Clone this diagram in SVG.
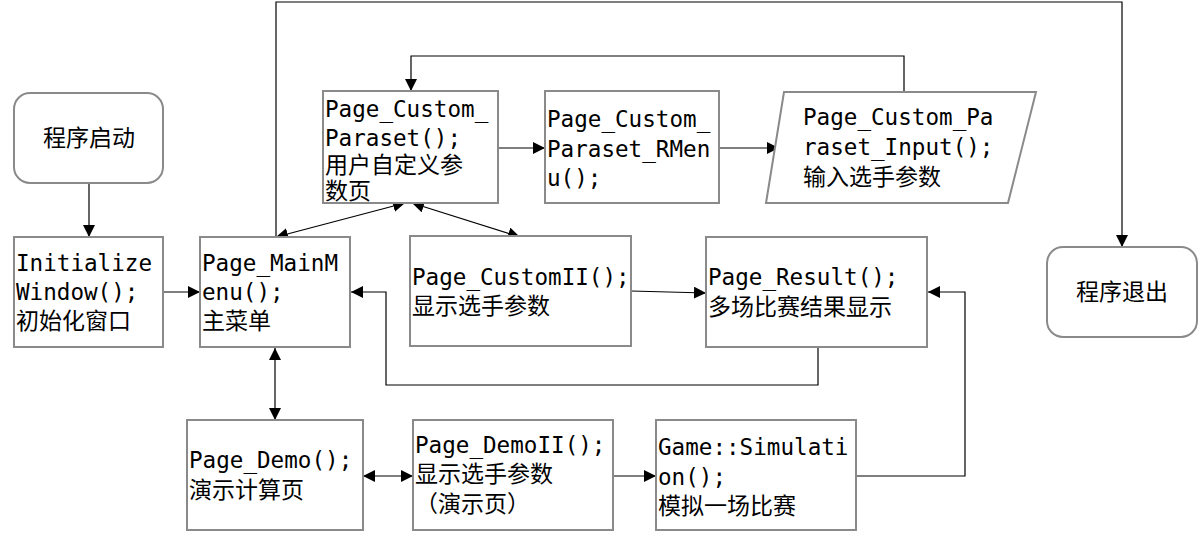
<svg xmlns="http://www.w3.org/2000/svg" width="1199" height="536" viewBox="0 0 1199 536">
<style>
.box{fill:#fff;stroke:#8a8a8a;stroke-width:2}
.code{font-family:"DejaVu Sans Mono","Liberation Mono","Noto Sans CJK SC",monospace;font-size:22.6px;fill:#000}
.cjk{font-family:"Noto Sans CJK SC","Liberation Sans",sans-serif;font-size:23px;fill:#000}
.ctr{text-anchor:middle}
.ln{fill:none;stroke:#000;stroke-width:1.2}
</style>
<defs>
<marker id="a" viewBox="0 0 10 10" refX="10" refY="5" markerWidth="12" markerHeight="12" markerUnits="userSpaceOnUse" orient="auto-start-reverse">
<path d="M0,0 L10,5 L0,10 z" fill="#000"/>
</marker>
</defs>
<g id="connectors">
<path class="ln" d="M89,183 V237" marker-end="url(#a)"/>
<path class="ln" d="M163,292 H200" marker-end="url(#a)"/>
<path class="ln" d="M276,237 V2 H1122 V247" marker-end="url(#a)"/>
<path class="ln" d="M276,237 L405,203" marker-start="url(#a)" marker-end="url(#a)"/>
<path class="ln" d="M412,203 L520,237" marker-start="url(#a)" marker-end="url(#a)"/>
<path class="ln" d="M498,148 H545" marker-end="url(#a)"/>
<path class="ln" d="M719,148 H779" marker-end="url(#a)"/>
<path class="ln" d="M904,92 V56 H411 V91" marker-end="url(#a)"/>
<path class="ln" d="M631,291 L706,293" marker-end="url(#a)"/>
<path class="ln" d="M818,347 V385 H386 V292 H351" marker-end="url(#a)"/>
<path class="ln" d="M275,348 V420" marker-start="url(#a)" marker-end="url(#a)"/>
<path class="ln" d="M363,476 H413" marker-start="url(#a)" marker-end="url(#a)"/>
<path class="ln" d="M613,476 H656" marker-end="url(#a)"/>
<path class="ln" d="M856,476 H965 V292 H928" marker-end="url(#a)"/>
</g>
<g id="start">
<rect class="box" x="14" y="93" width="149" height="90" rx="16"/>
<text class="cjk ctr" x="89" y="146">程序启动</text>
</g>
<g id="init">
<rect class="box" x="14" y="237" width="149" height="110"/>
<text class="code" x="16" y="271">Initialize</text>
<text class="code" x="16" y="300">Window();</text>
<text class="cjk" x="16" y="329">初始化窗口</text>
</g>
<g id="mainmenu">
<rect class="box" x="200" y="237" width="150" height="110"/>
<text class="code" x="202" y="271">Page_MainM</text>
<text class="code" x="202" y="300">enu();</text>
<text class="cjk" x="202" y="329">主菜单</text>
</g>
<g id="paraset">
<rect class="box" x="323" y="91" width="175" height="112"/>
<text class="code" x="325" y="117">Page_Custom_</text>
<text class="code" x="325" y="146">Paraset();</text>
<text class="cjk" x="325" y="173">用户自定义参</text>
<text class="cjk" x="325" y="199">数页</text>
</g>
<g id="rmenu">
<rect class="box" x="545" y="91" width="174" height="112"/>
<text class="code" x="547" y="127">Page_Custom_</text>
<text class="code" x="547" y="157">Paraset_RMen</text>
<text class="code" x="547" y="186">u();</text>
</g>
<g id="input">
<polygon class="box" points="784,92 1036,92 1008,203 766,203"/>
<text class="code" x="803" y="125">Page_Custom_Pa</text>
<text class="code" x="803" y="155">raset_Input();</text>
<text class="cjk" x="803" y="185">输入选手参数</text>
</g>
<g id="exit">
<rect class="box" x="1047" y="247" width="150" height="90" rx="16"/>
<text class="cjk ctr" x="1122" y="300">程序退出</text>
</g>
<g id="customII">
<rect class="box" x="410" y="236" width="221" height="110"/>
<text class="code" x="412" y="285">Page_CustomII();</text>
<text class="cjk" x="412" y="314">显示选手参数</text>
</g>
<g id="result">
<rect class="box" x="706" y="237" width="221" height="110"/>
<text class="code" x="708" y="285">Page_Result();</text>
<text class="cjk" x="708" y="315">多场比赛结果显示</text>
</g>
<g id="demo">
<rect class="box" x="187" y="420" width="176" height="110"/>
<text class="code" x="189" y="468">Page_Demo();</text>
<text class="cjk" x="189" y="498">演示计算页</text>
</g>
<g id="demoII">
<rect class="box" x="413" y="420" width="200" height="110"/>
<text class="code" x="415" y="453">Page_DemoII();</text>
<text class="cjk" x="415" y="482">显示选手参数</text>
<text class="cjk" x="415" y="512">（演示页）</text>
</g>
<g id="simulation">
<rect class="box" x="656" y="420" width="200" height="110"/>
<text class="code" x="658" y="455">Game::Simulati</text>
<text class="code" x="658" y="485">on();</text>
<text class="cjk" x="658" y="514">模拟一场比赛</text>
</g>
</svg>
